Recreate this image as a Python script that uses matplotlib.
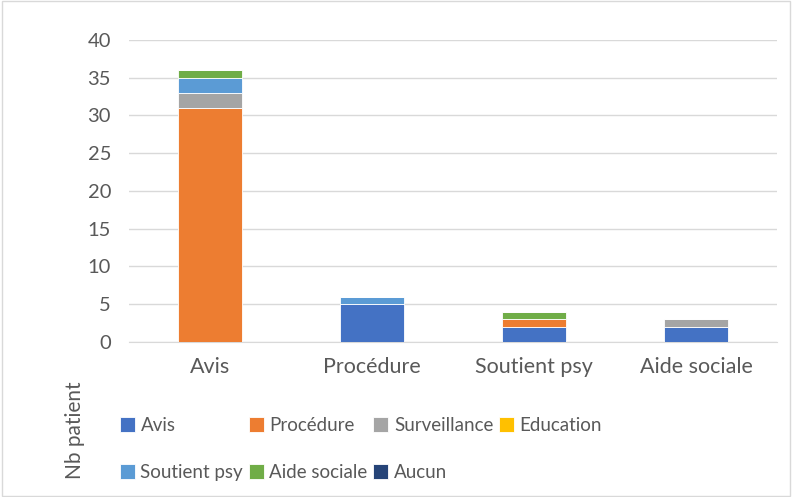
import numpy as np
import matplotlib
matplotlib.use("Agg")
import matplotlib.pyplot as plt
from matplotlib.patches import Rectangle

plt.rcParams['font.family'] = ['Lato', 'DejaVu Sans']

categories = ['Avis', 'Procédure', 'Soutient psy', 'Aide sociale']
series_names = ['Avis', 'Procédure', 'Surveillance', 'Education', 'Soutient psy', 'Aide sociale', 'Aucun']
avis = [0, 5, 2, 2]
procedure = [31, 0, 1, 0]
surveillance = [2, 0, 0, 1]
education = [0, 0, 0, 0]
soutient_psy = [2, 1, 0, 0]
aide_sociale = [1, 0, 1, 0]
aucun = [0, 0, 0, 0]
series = [avis, procedure, surveillance, education, soutient_psy, aide_sociale, aucun]
colors = ['#4472C4', '#ED7D31', '#A5A5A5', '#FFC000', '#5B9BD5', '#70AD47', '#264478']

text_color = '#595959'

fig = plt.figure(figsize=(7.92, 4.97), dpi=100)
ax = fig.add_axes([0.163, 0.312, 0.818, 0.608])

x = np.arange(len(categories))
bottom = np.zeros(len(categories))
handles = []
for name, vals, c in zip(series_names, series, colors):
    vals = np.array(vals, dtype=float)
    b = ax.bar(x, vals, width=0.4, bottom=bottom, color=c, label=name,
               edgecolor='white', linewidth=0.6, zorder=3)
    handles.append(b)
    bottom += vals

ax.set_xlim(-0.5, len(categories) - 0.5)
ax.set_ylim(0, 40)
ax.set_yticks(range(0, 41, 5))
ax.set_xticks(x)
ax.set_xticklabels(categories)
ax.grid(axis='y', color='#D9D9D9', linewidth=1, zorder=0)
for s in ['top', 'right', 'left']:
    ax.spines[s].set_visible(False)
ax.spines['bottom'].set_color('#D9D9D9')
ax.tick_params(axis='both', length=0, colors=text_color)
ax.tick_params(axis='y', pad=13, labelsize=14.5)
ax.tick_params(axis='x', pad=11, labelsize=15.5)

fig.text(0.095, 0.135, 'Nb patient', rotation=90, fontsize=15, color=text_color,
         ha='center', va='center')

# legend: row-wise order, matplotlib fills by columns
order = [0, 4, 1, 5, 2, 6, 3]
leg = fig.legend([handles[i] for i in order], [series_names[i] for i in order],
                 ncol=4, loc='upper left', bbox_to_anchor=(0.13, 0.195),
                 frameon=False, fontsize=13.5, handlelength=0.8, handleheight=0.8,
                 handletextpad=0.3, columnspacing=0.3, labelspacing=1.6,
                 labelcolor=text_color)

fig.patches.append(Rectangle((0.002, 0.002), 0.996, 0.996, transform=fig.transFigure,
                             fill=False, edgecolor='#D9D9D9', linewidth=1))

fig.savefig('out.png', dpi=100)
